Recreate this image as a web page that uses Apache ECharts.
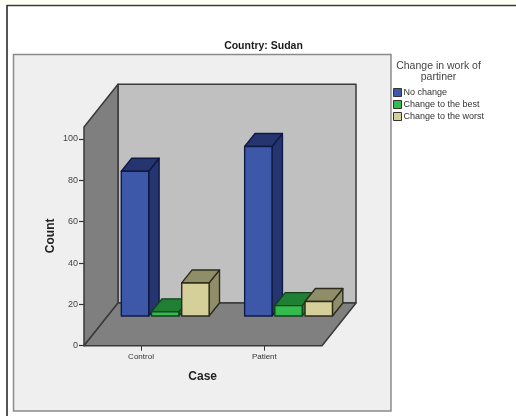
<!DOCTYPE html>
<html>
<head>
<meta charset="utf-8">
<style>html,body{margin:0;padding:0;background:#fff}#chart{width:516px;height:416px}</style>
<script src="https://cdn.jsdelivr.net/npm/echarts@6/dist/echarts.min.js"></script>
</head>
<body>
<div id="chart"></div>
<script>
// Counts by case group, one list per response
const categories = ['Control', 'Patient'];
const noChange = [70, 82];
const changeBest = [2, 5];
const changeWorst = [16, 7];

const yTicks = [0, 20, 40, 60, 80, 100];
const wallTopValue = 105.8;

const font = '"Liberation Sans", Arial, sans-serif';

// Oblique projection used for the box and the bars
const gridLeft = 79.35, gridWidth = 246.65, gridTop = 139, gridHeight = 206.7;
const floorLeft = 84, floorRight = 322;
const depthX = 34, depthY = 42.7;
const barShiftX = 24.2, barShiftY = 29.7;
const barWidth = 27.4, barPitch = 30.2;
const barDepthX = 10.4, barDepthY = 13;

const edge = '#3a3a3a';

function poly(points, fill, stroke, lineWidth) {
  return {
    type: 'polygon',
    shape: { points: points },
    style: { fill: fill, stroke: stroke, lineWidth: lineWidth, lineJoin: 'round' }
  };
}

// Back wall, side wall and floor of the box
function renderBox(params, api) {
  const bottom = api.coord([0, 0])[1];
  const top = api.coord([0, wallTopValue])[1];
  const backL = floorLeft + depthX, backR = floorRight + depthX;
  return {
    type: 'group',
    children: [
      poly([[backL, top - depthY], [backR, top - depthY], [backR, bottom - depthY], [backL, bottom - depthY]], '#c0c0c0', edge, 1.5),
      poly([[floorLeft, top], [backL, top - depthY], [backL, bottom - depthY], [floorLeft, bottom]], '#7f7f7f', edge, 1.5),
      poly([[floorLeft, bottom], [backL, bottom - depthY], [backR, bottom - depthY], [floorRight, bottom]], '#808080', edge, 1.5)
    ]
  };
}

// One series' 3D bars: front face plus the shaded top and side
function barRenderer(slot, front, shade, stroke) {
  return function (params, api) {
    const base = api.coord([api.value(0), 0]);
    const head = api.coord([api.value(0), api.value(1)]);
    const x0 = base[0] + barShiftX + slot * barPitch - barWidth / 2;
    const x1 = x0 + barWidth;
    const y0 = base[1] - barShiftY;
    const y1 = head[1] - barShiftY;
    return {
      type: 'group',
      children: [
        poly([[x1, y0], [x1 + barDepthX, y0 - barDepthY], [x1 + barDepthX, y1 - barDepthY], [x1, y1]], shade, stroke, 1.4),
        poly([[x0, y1], [x0 + barDepthX, y1 - barDepthY], [x1 + barDepthX, y1 - barDepthY], [x1, y1]], shade, stroke, 1.4),
        poly([[x0, y0], [x1, y0], [x1, y1], [x0, y1]], front, stroke, 1.4)
      ]
    };
  };
}

function barSeries(name, values, slot, front, shade, stroke) {
  return {
    type: 'custom',
    name: name,
    coordinateSystem: 'cartesian2d',
    itemStyle: { color: front },
    encode: { x: 0, y: 1 },
    data: categories.map((c, i) => [i, values[i]]),
    renderItem: barRenderer(slot, front, shade, stroke),
    z: 3
  };
}

const chart = echarts.init(document.getElementById('chart'), null, { renderer: 'canvas' });

chart.setOption({
  animation: false,
  backgroundColor: '#ffffff',
  textStyle: { fontFamily: font },
  title: [
    {
      text: 'Country: Sudan',
      left: 263.5, top: 41, textAlign: 'center', padding: 0,
      textStyle: { fontFamily: font, fontSize: 10.5, fontWeight: 'bold', color: '#1a1a1a' }
    },
    {
      text: 'Change in work of\npartiner',
      left: 438.5, top: 61, textAlign: 'center', padding: 0,
      textStyle: { fontFamily: font, fontSize: 10.5, fontWeight: 'normal', color: '#444444', lineHeight: 11 }
    }
  ],
  legend: {
    left: 393, top: 88, orient: 'vertical',
    padding: 0, itemWidth: 8, itemHeight: 8, itemGap: 3,
    icon: 'rect',
    selectedMode: false,
    itemStyle: { borderColor: '#333333', borderWidth: 1 },
    textStyle: { fontFamily: font, fontSize: 9, lineHeight: 8, color: '#333333', padding: [0, 0, 0, -3] },
    data: ['No change', 'Change to the best', 'Change to the worst']
  },
  grid: { left: gridLeft, top: gridTop, width: gridWidth, height: gridHeight, containLabel: false },
  xAxis: {
    type: 'category',
    data: categories,
    name: 'Case',
    nameLocation: 'middle',
    nameGap: 25,
    nameTextStyle: { fontFamily: font, fontSize: 12, fontWeight: 'bold', color: '#222222' },
    axisLine: { show: false },
    axisTick: { show: true, alignWithLabel: true, length: 5, lineStyle: { color: '#333333', width: 1 } },
    axisLabel: { fontFamily: font, fontSize: 8, color: '#333333', margin: 7 },
    splitLine: { show: false }
  },
  yAxis: {
    type: 'value',
    min: yTicks[0],
    max: yTicks[yTicks.length - 1],
    interval: 20,
    offset: -(floorLeft - gridLeft),
    name: 'Count',
    nameLocation: 'middle',
    nameGap: 27.5,
    nameRotate: 90,
    nameTextStyle: { fontFamily: font, fontSize: 12, fontWeight: 'bold', color: '#222222', padding: [0, 0, 0, 13] },
    axisLine: { show: false },
    axisTick: { show: true, length: 5, lineStyle: { color: '#333333', width: 1.2 } },
    axisLabel: { fontFamily: font, fontSize: 9, color: '#444444', margin: 6 },
    splitLine: { show: false }
  },
  graphic: [
    { type: 'rect', z: -10, silent: true, shape: { x: 0, y: 0, width: 516, height: 4 }, style: { fill: '#fffff2' } },
    { type: 'line', z: -9, silent: true, shape: { x1: 7, y1: 5.5, x2: 516, y2: 5.5 }, style: { stroke: '#3a3a3a', lineWidth: 1.6 } },
    { type: 'line', z: -9, silent: true, shape: { x1: 7, y1: 5, x2: 7, y2: 416 }, style: { stroke: '#2a2a2a', lineWidth: 1.6 } },
    { type: 'rect', z: -8, silent: true, shape: { x: 13.5, y: 54.5, width: 377.5, height: 356.5 }, style: { fill: '#efefef', stroke: '#8a8a8a', lineWidth: 1.5 } }
  ],
  series: [
    {
      type: 'custom',
      name: 'box',
      coordinateSystem: 'cartesian2d',
      silent: true,
      data: [[0, 0]],
      encode: { x: 0, y: 1 },
      renderItem: renderBox,
      z: 1
    },
    barSeries('No change', noChange, -1, '#3d58a9', '#25356f', '#101a44'),
    barSeries('Change to the best', changeBest, 0, '#33bb4e', '#1f7f33', '#15401f'),
    barSeries('Change to the worst', changeWorst, 1, '#d5d09a', '#8f8e68', '#2c2c1c')
  ]
});
</script>
</body>
</html>
